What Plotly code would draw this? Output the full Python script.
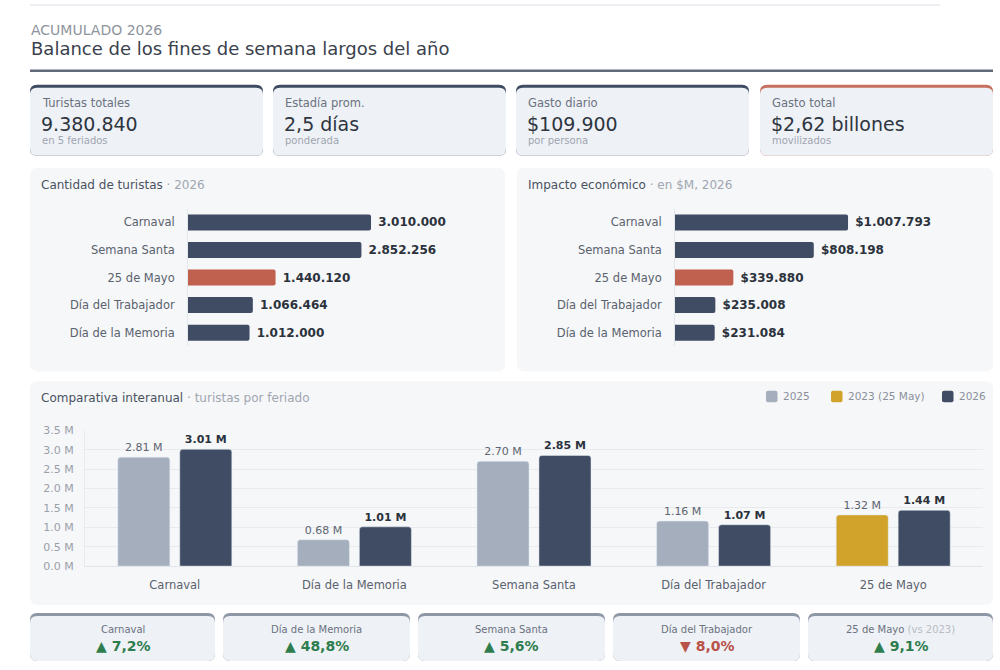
import plotly.graph_objects as go

# ---------------- data ----------------
hbar_categories = ["Carnaval", "Semana Santa", "25 de Mayo", "Día del Trabajador", "Día de la Memoria"]
tourists_2026_sorted = [3010000, 2852256, 1440120, 1066464, 1012000]
impact_2026_sorted = [1007793, 808198, 339880, 235008, 231084]

comp_categories = ["Carnaval", "Día de la Memoria", "Semana Santa", "Día del Trabajador", "25 de Mayo"]
prev_2025 = [2808000, 680000, 2701000, 1159000, None]
prev_2023 = [None, None, None, None, 1320000]
cur_2026 = [3010000, 1012000, 2852256, 1066464, 1440120]
series_names = ["2025", "2023 (25 May)", "2026"]

y_tick_vals = [0, 500000, 1000000, 1500000, 2000000, 2500000, 3000000, 3500000]
y_tick_text = ["0.0 M", "0.5 M", "1.0 M", "1.5 M", "2.0 M", "2.5 M", "3.0 M", "3.5 M"]

kpi_labels = ["Turistas totales", "Estadía prom.", "Gasto diario", "Gasto total"]
kpi_values = ["9.380.840", "2,5 días", "$109.900", "$2,62 billones"]
kpi_subs = ["en 5 feriados", "ponderada", "por persona", "movilizados"]

var_labels = ["Carnaval", "Día de la Memoria", "Semana Santa", "Día del Trabajador", "25 de Mayo"]
var_values = ["▲ 7,2%", "▲ 48,8%", "▲ 5,6%", "▼ 8,0%", "▲ 9,1%"]
var_up = [True, True, True, False, True]

# ---------------- style ----------------
W, H = 1000, 670
FONT = "DejaVu Sans"
DARK = "#3f4c63"
RED = "#c0604e"
GRAY25 = "#a4aebc"
GOLD = "#d2a32a"
TEXT = "#2f3640"
MUTED = "#6b7280"
LIGHT = "#a0a6b0"
PANEL = "#f6f7f9"
CARD = "#eef1f6"
GREEN = "#2e7d4e"
DOWN = "#b9534a"
SERIES_COLORS = [GRAY25, GOLD, DARK]

# vertical calibration of the rendered page
YA, YB = 0.982, 6.1


def px(x):
    return x / W


def py(y):
    return 1 - ((y - YB) / YA) / H


def rrect(x0, y0, x1, y1, r):
    pts = [
        ("M", [(x0 + r, y0)]),
        ("L", [(x1 - r, y0)]),
        ("Q", [(x1, y0), (x1, y0 + r)]),
        ("L", [(x1, y1 - r)]),
        ("Q", [(x1, y1), (x1 - r, y1)]),
        ("L", [(x0 + r, y1)]),
        ("Q", [(x0, y1), (x0, y1 - r)]),
        ("L", [(x0, y0 + r)]),
        ("Q", [(x0, y0), (x0 + r, y0)]),
    ]
    s = ""
    for cmd, ps in pts:
        s += cmd + " " + " ".join(f"{px(a):.5f},{py(b):.5f}" for a, b in ps) + " "
    return s + "Z"


shapes = []
annotations = []


def add_rrect(x0, y0, x1, y1, r, color):
    shapes.append(dict(type="path", path=rrect(x0, y0, x1, y1, r), xref="paper", yref="paper",
                       fillcolor=color, line=dict(width=0), layer="below"))


def add_text(x, y, text, size, color, xanchor="left", bold=False):
    if bold:
        text = f"<b>{text}</b>"
    annotations.append(dict(x=px(x), y=py(y), xref="paper", yref="paper", text=text, showarrow=False,
                            xanchor=xanchor, yanchor="middle", font=dict(family=FONT, size=size, color=color)))


# header
shapes.append(dict(type="line", x0=px(30), x1=px(940), y0=py(5), y1=py(5), xref="paper", yref="paper",
                   line=dict(color="#e6e8ec", width=1.5)))
add_text(29, 30, "ACUMULADO 2026", 14, "#8e949d")
add_text(29, 49, "Balance de los fines de semana largos del año", 18, "#3a414c")
shapes.append(dict(type="line", x0=px(30), x1=px(993), y0=py(71), y1=py(71), xref="paper", yref="paper",
                   line=dict(color="#626a7a", width=2.5)))

# KPI cards
card_x = [(30, 263), (273, 506), (516, 749), (760, 993)]
card_top = [DARK, DARK, DARK, "#c8705f"]
for i, (x0, x1) in enumerate(card_x):
    add_rrect(x0, 85, x1, 156, 7, card_top[i])
    add_rrect(x0, 88, x1, 156, 7, CARD)
    add_text(x0 + 10, 103, kpi_labels[i], 11.5, MUTED)
    add_text(x0 + 9, 124, kpi_values[i], 19, "#2d3540")
    add_text(x0 + 10, 141, kpi_subs[i], 10, LIGHT)

# panels
add_rrect(30, 168, 505, 372, 8, PANEL)
add_rrect(517, 168, 993, 372, 8, PANEL)
add_rrect(30, 382, 993, 606, 8, PANEL)
add_text(39, 185, f"<span style='color:#4a5260'>Cantidad de turistas</span><span style='color:{LIGHT}'> · 2026</span>", 12, "#4a5260")
add_text(526, 185, f"<span style='color:#4a5260'>Impacto económico</span><span style='color:{LIGHT}'> · en $M, 2026</span>", 12, "#4a5260")
add_text(39, 399, f"<span style='color:#4a5260'>Comparativa interanual</span><span style='color:{LIGHT}'> · turistas por feriado</span>", 12, "#4a5260")

# custom legend for the comparison chart
leg_sq_x = [766, 831, 942]
for name, color, sx in zip(series_names, SERIES_COLORS, leg_sq_x):
    add_rrect(sx, 391.5, sx + 11.5, 403, 2, color)
    add_text(sx + 15, 397, name, 10.5, "#8a909a")

# bottom variation cards
var_x = [(30, 215), (223, 410), (418, 605), (613, 800), (808, 993)]
for i, (x0, x1) in enumerate(var_x):
    add_rrect(x0, 614, x1, 662, 7, "#8e97a5")
    add_rrect(x0, 617, x1, 662, 7, CARD)
    lab = var_labels[i]
    if i == 4:
        lab = f"{lab} <span style='color:#b8bdc5'>(vs 2023)</span>"
    add_text((x0 + x1) / 2, 630, lab, 10, MUTED, xanchor="center")
    add_text((x0 + x1) / 2, 647, var_values[i], 14, GREEN if var_up[i] else DOWN, xanchor="center", bold=True)

fig = go.Figure()

hbar_colors = [RED if c == "25 de Mayo" else DARK for c in hbar_categories]


def dots(v):
    return f"{v:,}".replace(",", ".")


fig.add_trace(go.Bar(
    y=hbar_categories, x=tourists_2026_sorted, orientation="h",
    marker=dict(color=hbar_colors, line=dict(width=0), cornerradius=2),
    text=[f"<b> {dots(v)}</b>" for v in tourists_2026_sorted], textposition="outside",
    textfont=dict(family=FONT, size=12, color="#2b323c"), cliponaxis=False,
    xaxis="x", yaxis="y", showlegend=False, hoverinfo="skip"))
fig.add_trace(go.Bar(
    y=hbar_categories, x=impact_2026_sorted, orientation="h",
    marker=dict(color=hbar_colors, line=dict(width=0), cornerradius=2),
    text=[f"<b> ${dots(v)}</b>" for v in impact_2026_sorted], textposition="outside",
    textfont=dict(family=FONT, size=12, color="#2b323c"), cliponaxis=False,
    xaxis="x2", yaxis="y2", showlegend=False, hoverinfo="skip"))

fig.add_trace(go.Bar(
    name=series_names[0], x=comp_categories, y=prev_2025,
    marker=dict(color=SERIES_COLORS[0], cornerradius=3), offsetgroup="prev",
    text=[f"{v/1e6:.2f} M" if v else "" for v in prev_2025], textposition="outside",
    textfont=dict(family=FONT, size=11, color="#5d6570"), cliponaxis=False,
    xaxis="x3", yaxis="y3", hoverinfo="skip", showlegend=False))
fig.add_trace(go.Bar(
    name=series_names[1], x=comp_categories, y=prev_2023,
    marker=dict(color=SERIES_COLORS[1], cornerradius=3), offsetgroup="prev",
    text=[f"{v/1e6:.2f} M" if v else "" for v in prev_2023], textposition="outside",
    textfont=dict(family=FONT, size=11, color="#5d6570"), cliponaxis=False,
    xaxis="x3", yaxis="y3", hoverinfo="skip", showlegend=False))
fig.add_trace(go.Bar(
    name=series_names[2], x=comp_categories, y=cur_2026,
    marker=dict(color=SERIES_COLORS[2], cornerradius=3), offsetgroup="cur",
    text=[f"<b>{v/1e6:.2f} M</b>" for v in cur_2026], textposition="outside",
    textfont=dict(family=FONT, size=11, color="#2b323c"), cliponaxis=False,
    xaxis="x3", yaxis="y3", hoverinfo="skip", showlegend=False))

hb_ydom = [py(347), py(209)]
fig.update_layout(
    width=W, height=H, autosize=False,
    margin=dict(l=0, r=0, t=0, b=0),
    paper_bgcolor="white", plot_bgcolor="rgba(0,0,0,0)",
    font=dict(family=FONT, color=TEXT),
    barmode="group", bargap=0.31, bargroupgap=0.16,
    shapes=shapes, annotations=annotations,
    showlegend=False,
    xaxis=dict(domain=[px(188), px(490)], range=[0, 302 / 60.8e-6], visible=False, fixedrange=True),
    yaxis=dict(domain=hb_ydom, anchor="x", autorange="reversed", type="category",
               showline=True, linecolor="#e3e6ea", linewidth=1, showgrid=False,
               ticks="", ticklabelstandoff=10, tickfont=dict(family=FONT, size=11.5, color="#5a626d")),
    xaxis2=dict(domain=[px(675), px(980)], range=[0, 305 / 171.7e-6], visible=False, fixedrange=True, anchor="y2"),
    yaxis2=dict(domain=hb_ydom, anchor="x2", autorange="reversed", type="category",
                showline=True, linecolor="#e3e6ea", linewidth=1, showgrid=False,
                ticks="", ticklabelstandoff=10, tickfont=dict(family=FONT, size=11.5, color="#5a626d")),
    xaxis3=dict(domain=[px(85), px(983)], anchor="y3", type="category", showgrid=False,
                showline=True, linecolor="#e1e4e8", ticks="", ticklabelstandoff=8,
                tickfont=dict(family=FONT, size=11.5, color="#5a626d")),
    yaxis3=dict(domain=[py(567), py(431)], anchor="x3", range=[0, 3500000],
                tickvals=y_tick_vals, ticktext=y_tick_text, showgrid=True, gridcolor="#e8eaee",
                zeroline=False, showline=True, linecolor="#e8eaee", ticks="", ticklabelstandoff=8,
                tickfont=dict(family=FONT, size=11, color="#9aa0a9")),
)
fig.update_traces(selector=dict(orientation="h"), width=0.58)

fig.write_html("out.html")
